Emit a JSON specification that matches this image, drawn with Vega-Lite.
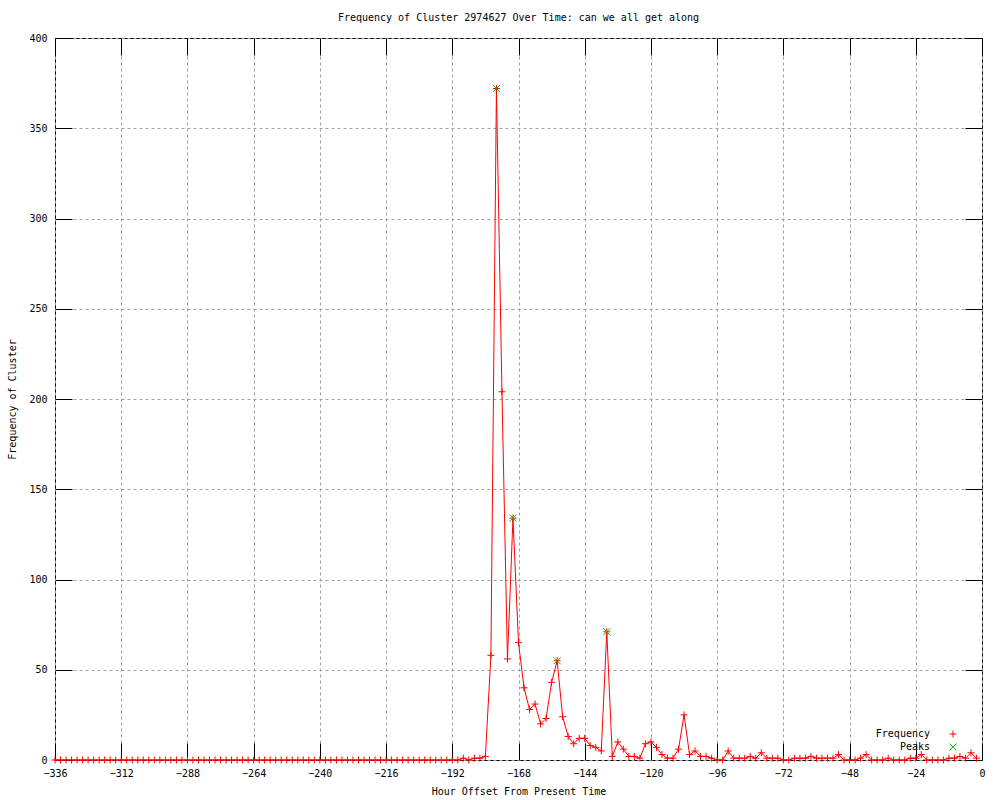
{
  "$schema": "https://vega.github.io/schema/vega-lite/v6.json",
  "width": 927,
  "height": 722,
  "autosize": {"type": "none"},
  "padding": {"left": 55, "top": 38, "right": 18, "bottom": 40},
  "background": "white",
  "config": {
    "font": "DejaVu Sans Mono",
    "view": {"stroke": "black", "strokeWidth": 1},
    "axis": {"labelFont": "DejaVu Sans Mono", "labelFontSize": 10, "labelColor": "black", "titleFont": "DejaVu Sans Mono", "titleFontSize": 10, "titleFontWeight": "normal", "titleColor": "black", "domain": false, "gridColor": "#a0a0a0", "gridDash": [3, 3], "gridOpacity": 1, "tickColor": "black"},
    "legend": {"labelFont": "DejaVu Sans Mono", "labelFontSize": 10, "labelColor": "black"}
  },
  "title": {"text": "Frequency of Cluster 2974627 Over Time: can we all get along", "font": "DejaVu Sans Mono", "fontSize": 10, "fontWeight": "normal", "color": "black", "offset": 10, "anchor": "middle"},
  "datasets": {
    "freq": [
      {"h": -336, "f": 0}, {"h": -334, "f": 0}, {"h": -332, "f": 0}, {"h": -330, "f": 0}, {"h": -328, "f": 0}, {"h": -326, "f": 0}, {"h": -324, "f": 0}, {"h": -322, "f": 0},
      {"h": -320, "f": 0}, {"h": -318, "f": 0}, {"h": -316, "f": 0}, {"h": -314, "f": 0}, {"h": -312, "f": 0}, {"h": -310, "f": 0}, {"h": -308, "f": 0}, {"h": -306, "f": 0},
      {"h": -304, "f": 0}, {"h": -302, "f": 0}, {"h": -300, "f": 0}, {"h": -298, "f": 0}, {"h": -296, "f": 0}, {"h": -294, "f": 0}, {"h": -292, "f": 0}, {"h": -290, "f": 0},
      {"h": -288, "f": 0}, {"h": -286, "f": 0}, {"h": -284, "f": 0}, {"h": -282, "f": 0}, {"h": -280, "f": 0}, {"h": -278, "f": 0}, {"h": -276, "f": 0}, {"h": -274, "f": 0},
      {"h": -272, "f": 0}, {"h": -270, "f": 0}, {"h": -268, "f": 0}, {"h": -266, "f": 0}, {"h": -264, "f": 0}, {"h": -262, "f": 0}, {"h": -260, "f": 0}, {"h": -258, "f": 0},
      {"h": -256, "f": 0}, {"h": -254, "f": 0}, {"h": -252, "f": 0}, {"h": -250, "f": 0}, {"h": -248, "f": 0}, {"h": -246, "f": 0}, {"h": -244, "f": 0}, {"h": -242, "f": 0},
      {"h": -240, "f": 0}, {"h": -238, "f": 0}, {"h": -236, "f": 0}, {"h": -234, "f": 0}, {"h": -232, "f": 0}, {"h": -230, "f": 0}, {"h": -228, "f": 0}, {"h": -226, "f": 0},
      {"h": -224, "f": 0}, {"h": -222, "f": 0}, {"h": -220, "f": 0}, {"h": -218, "f": 0}, {"h": -216, "f": 0}, {"h": -214, "f": 0}, {"h": -212, "f": 0}, {"h": -210, "f": 0},
      {"h": -208, "f": 0}, {"h": -206, "f": 0}, {"h": -204, "f": 0}, {"h": -202, "f": 0}, {"h": -200, "f": 0}, {"h": -198, "f": 0}, {"h": -196, "f": 0}, {"h": -194, "f": 0},
      {"h": -192, "f": 0}, {"h": -190, "f": 0}, {"h": -188, "f": 1}, {"h": -186, "f": 0}, {"h": -184, "f": 1}, {"h": -182, "f": 1}, {"h": -180, "f": 2}, {"h": -178, "f": 58},
      {"h": -176, "f": 372}, {"h": -174, "f": 204}, {"h": -172, "f": 56}, {"h": -170, "f": 134}, {"h": -168, "f": 65}, {"h": -166, "f": 40}, {"h": -164, "f": 28}, {"h": -162, "f": 31},
      {"h": -160, "f": 20}, {"h": -158, "f": 23}, {"h": -156, "f": 43}, {"h": -154, "f": 55}, {"h": -152, "f": 24}, {"h": -150, "f": 13}, {"h": -148, "f": 9}, {"h": -146, "f": 12},
      {"h": -144, "f": 12}, {"h": -142, "f": 8}, {"h": -140, "f": 7}, {"h": -138, "f": 5}, {"h": -136, "f": 71}, {"h": -134, "f": 2}, {"h": -132, "f": 10}, {"h": -130, "f": 6},
      {"h": -128, "f": 2}, {"h": -126, "f": 2}, {"h": -124, "f": 1}, {"h": -122, "f": 9}, {"h": -120, "f": 10}, {"h": -118, "f": 7}, {"h": -116, "f": 3}, {"h": -114, "f": 1},
      {"h": -112, "f": 1}, {"h": -110, "f": 6}, {"h": -108, "f": 25}, {"h": -106, "f": 3}, {"h": -104, "f": 5}, {"h": -102, "f": 2}, {"h": -100, "f": 2}, {"h": -98, "f": 1},
      {"h": -96, "f": 0}, {"h": -94, "f": 0}, {"h": -92, "f": 5}, {"h": -90, "f": 1}, {"h": -88, "f": 1}, {"h": -86, "f": 1}, {"h": -84, "f": 2}, {"h": -82, "f": 1},
      {"h": -80, "f": 4}, {"h": -78, "f": 1}, {"h": -76, "f": 1}, {"h": -74, "f": 1}, {"h": -72, "f": 0}, {"h": -70, "f": 0}, {"h": -68, "f": 1}, {"h": -66, "f": 1},
      {"h": -64, "f": 1}, {"h": -62, "f": 2}, {"h": -60, "f": 1}, {"h": -58, "f": 1}, {"h": -56, "f": 1}, {"h": -54, "f": 1}, {"h": -52, "f": 3}, {"h": -50, "f": 0},
      {"h": -48, "f": 0}, {"h": -46, "f": 0}, {"h": -44, "f": 1}, {"h": -42, "f": 3}, {"h": -40, "f": 0}, {"h": -38, "f": 0}, {"h": -36, "f": 0}, {"h": -34, "f": 1},
      {"h": -32, "f": 0}, {"h": -30, "f": 0}, {"h": -28, "f": 0}, {"h": -26, "f": 1}, {"h": -24, "f": 1}, {"h": -22, "f": 3}, {"h": -20, "f": 0}, {"h": -18, "f": 0},
      {"h": -16, "f": 0}, {"h": -14, "f": 0}, {"h": -12, "f": 1}, {"h": -10, "f": 1}, {"h": -8, "f": 2}, {"h": -6, "f": 1}, {"h": -4, "f": 4}, {"h": -2, "f": 1}
    ],
    "peaks": [
      {"h": -176, "f": 372}, {"h": -170, "f": 134}, {"h": -154, "f": 55}, {"h": -136, "f": 71}
    ]
  },
  "layer": [
    {
      "data": {"name": "freq"},
      "mark": {"type": "line", "color": "#ff0000", "strokeWidth": 1, "interpolate": "linear"},
      "encoding": {
        "x": {"field": "h", "type": "quantitative", "title": "Hour Offset From Present Time",
              "scale": {"domain": [-336, 0], "nice": false, "zero": false},
              "axis": {"values": [-336, -312, -288, -264, -240, -216, -192, -168, -144, -120, -96, -72, -48, -24, 0], "grid": true, "tickSize": -17, "labelPadding": 25, "titlePadding": 8, "labelFlush": false}},
        "y": {"field": "f", "type": "quantitative", "title": "Frequency of Cluster",
              "scale": {"domain": [0, 400], "nice": false},
              "axis": {"values": [0, 50, 100, 150, 200, 250, 300, 350, 400], "grid": true, "tickSize": -17, "labelPadding": 25, "titlePadding": 11}}
      }
    },
    {
      "data": {"name": "freq"},
      "mark": {"type": "point", "filled": false, "strokeWidth": 1, "size": 49, "opacity": 1},
      "encoding": {
        "x": {"field": "h", "type": "quantitative", "axis": null},
        "y": {"field": "f", "type": "quantitative", "axis": null},
        "color": {"datum": "Frequency", "scale": {"domain": ["Frequency", "Peaks"], "range": ["#ff0000", "#00c000"]}, "legend": {"title": null, "orient": "none", "legendX": 893, "legendY": 691, "symbolSize": 49, "symbolStrokeWidth": 1, "labelAlign": "right", "labelOffset": -28, "rowPadding": 1}},
        "shape": {"datum": "Frequency", "scale": {"domain": ["Frequency", "Peaks"], "range": ["M-1,0L1,0M0,-1L0,1", "M-1,-1L1,1M-1,1L1,-1"]}, "legend": {"title": null, "orient": "none", "legendX": 893, "legendY": 691}}
      }
    },
    {
      "data": {"name": "peaks"},
      "mark": {"type": "point", "filled": false, "strokeWidth": 1, "size": 49, "opacity": 1},
      "encoding": {
        "x": {"field": "h", "type": "quantitative", "axis": {"orient": "top", "values": [-336, -312, -288, -264, -240, -216, -192, -168, -144, -120, -96, -72, -48, -24, 0], "labels": false, "grid": false, "tickSize": -17, "title": null}},
        "y": {"field": "f", "type": "quantitative", "axis": {"orient": "right", "values": [0, 50, 100, 150, 200, 250, 300, 350, 400], "labels": false, "grid": false, "tickSize": -17, "title": null}},
        "color": {"datum": "Peaks"},
        "shape": {"datum": "Peaks"}
      }
    }
  ],
  "resolve": {"axis": {"x": "independent", "y": "independent"}}
}
